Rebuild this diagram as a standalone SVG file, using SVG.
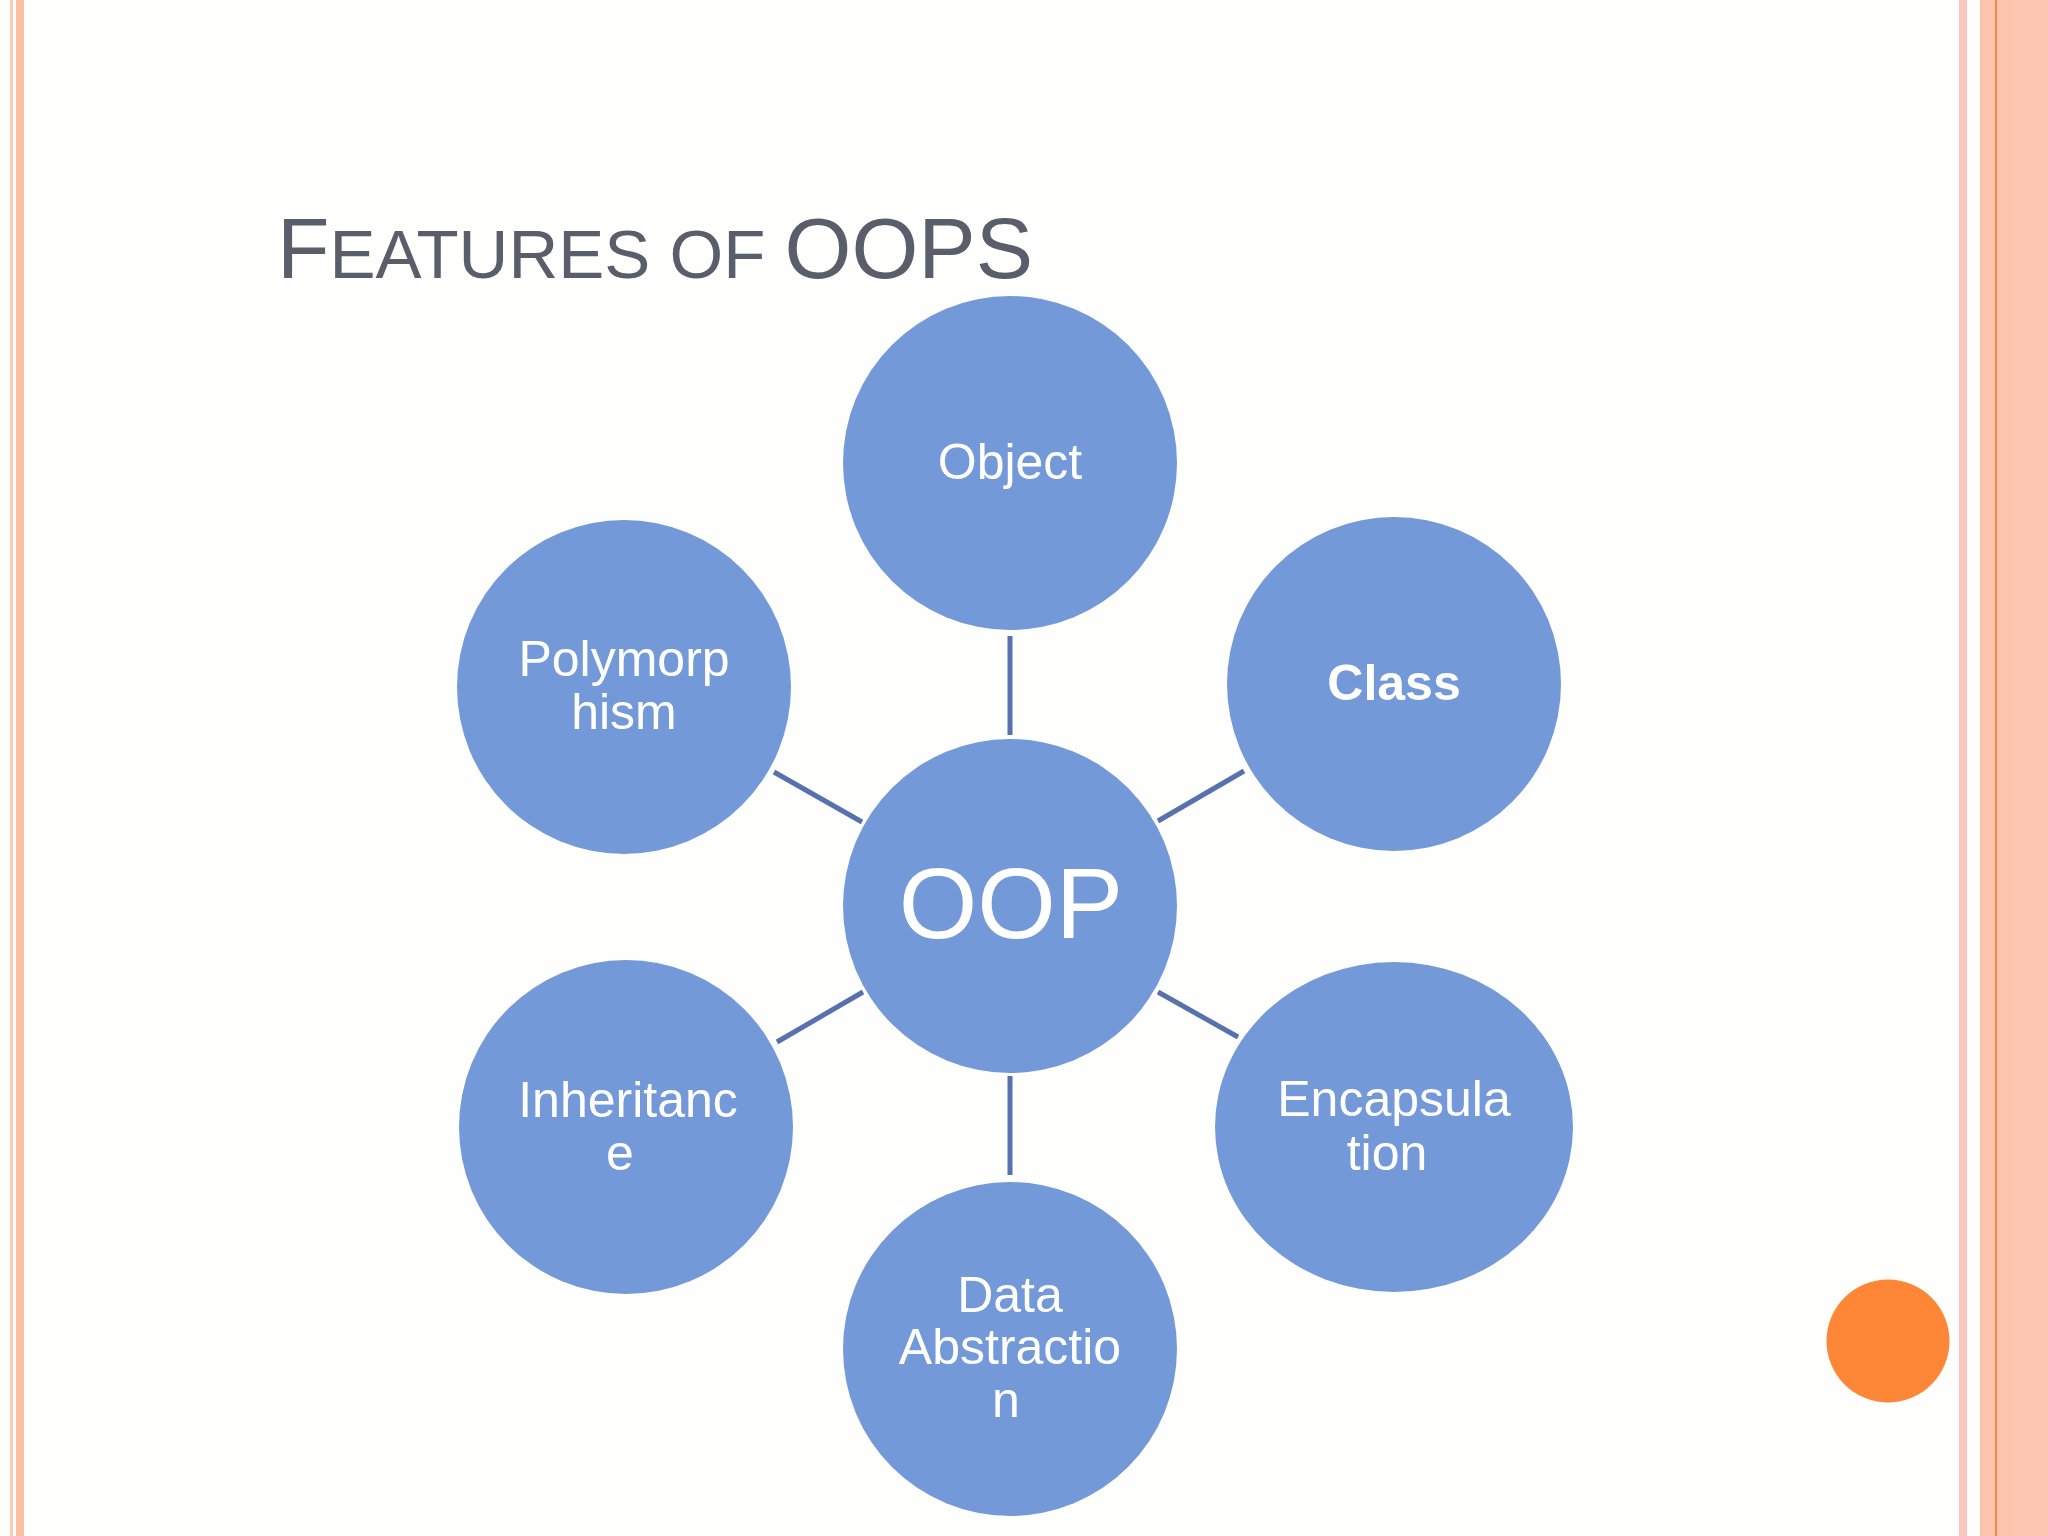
<svg xmlns="http://www.w3.org/2000/svg" width="2048" height="1536" viewBox="0 0 2048 1536">
<style>
.node{fill:#7499D9;}
.lbl{font-family:"Liberation Sans",Arial,sans-serif;font-size:50px;fill:#FFFFFF;text-anchor:middle;}
.big{font-size:101px;}
.conn line{stroke:#5671AD;stroke-width:5;}
.title{font-family:"Liberation Sans",Arial,sans-serif;fill:#5A5E6B;}
</style>
<rect x="0" y="0" width="2048" height="1536" fill="#FEFEFC"/>
<g id="borders">
<rect x="10" y="0" width="3" height="1536" fill="#F9CBBD"/>
<rect x="16" y="0" width="8" height="1536" fill="#FCC0A4"/>
<rect x="1959" y="0" width="8" height="1536" fill="#F9C6BE"/>
<rect x="1980" y="0" width="68" height="1536" fill="#FCC4AC"/>
<rect x="2013" y="0" width="35" height="1536" fill="#FCC7B0"/>
<rect x="1995" y="0" width="2" height="1536" fill="#F08A4C"/>
</g>
<text class="title" x="277" y="278" font-size="86">F<tspan font-size="69">EATURES OF </tspan>OOPS</text>
<g class="conn" id="connectors">
<line x1="1010" y1="636" x2="1010" y2="735"/>
<line x1="1158" y1="821" x2="1244" y2="771"/>
<line x1="862" y1="822" x2="774" y2="772"/>
<line x1="863" y1="992" x2="777" y2="1042"/>
<line x1="1158" y1="992" x2="1238" y2="1037"/>
<line x1="1010" y1="1076" x2="1010" y2="1175"/>
</g>
<g id="node-object"><circle class="node" cx="1010" cy="463" r="167"/><text class="lbl" x="1010" y="479">Object</text></g>
<g id="node-class"><circle class="node" cx="1394" cy="684" r="167"/><text class="lbl" x="1394" y="700" font-weight="bold">Class</text></g>
<g id="node-polymorphism"><circle class="node" cx="624" cy="687" r="167"/><text class="lbl" x="624" y="676">Polymorp</text><text class="lbl" x="624" y="729">hism</text></g>
<g id="node-oop"><circle class="node" cx="1010" cy="906" r="167"/><text class="lbl big" x="1011" y="938">OOP</text></g>
<g id="node-inheritance"><circle class="node" cx="626" cy="1127" r="167"/><text class="lbl" x="628" y="1117">Inheritanc</text><text class="lbl" x="620" y="1170">e</text></g>
<g id="node-encapsulation"><ellipse class="node" cx="1394" cy="1127" rx="179" ry="165"/><text class="lbl" x="1394" y="1116">Encapsula</text><text class="lbl" x="1387" y="1170">tion</text></g>
<g id="node-data-abstraction"><circle class="node" cx="1010" cy="1349" r="167"/><text class="lbl" x="1010" y="1312">Data</text><text class="lbl" x="1010" y="1364">Abstractio</text><text class="lbl" x="1006" y="1417">n</text></g>
<circle id="orange-dot" cx="1888" cy="1341" r="61.5" fill="#FE8637"/>
</svg>
